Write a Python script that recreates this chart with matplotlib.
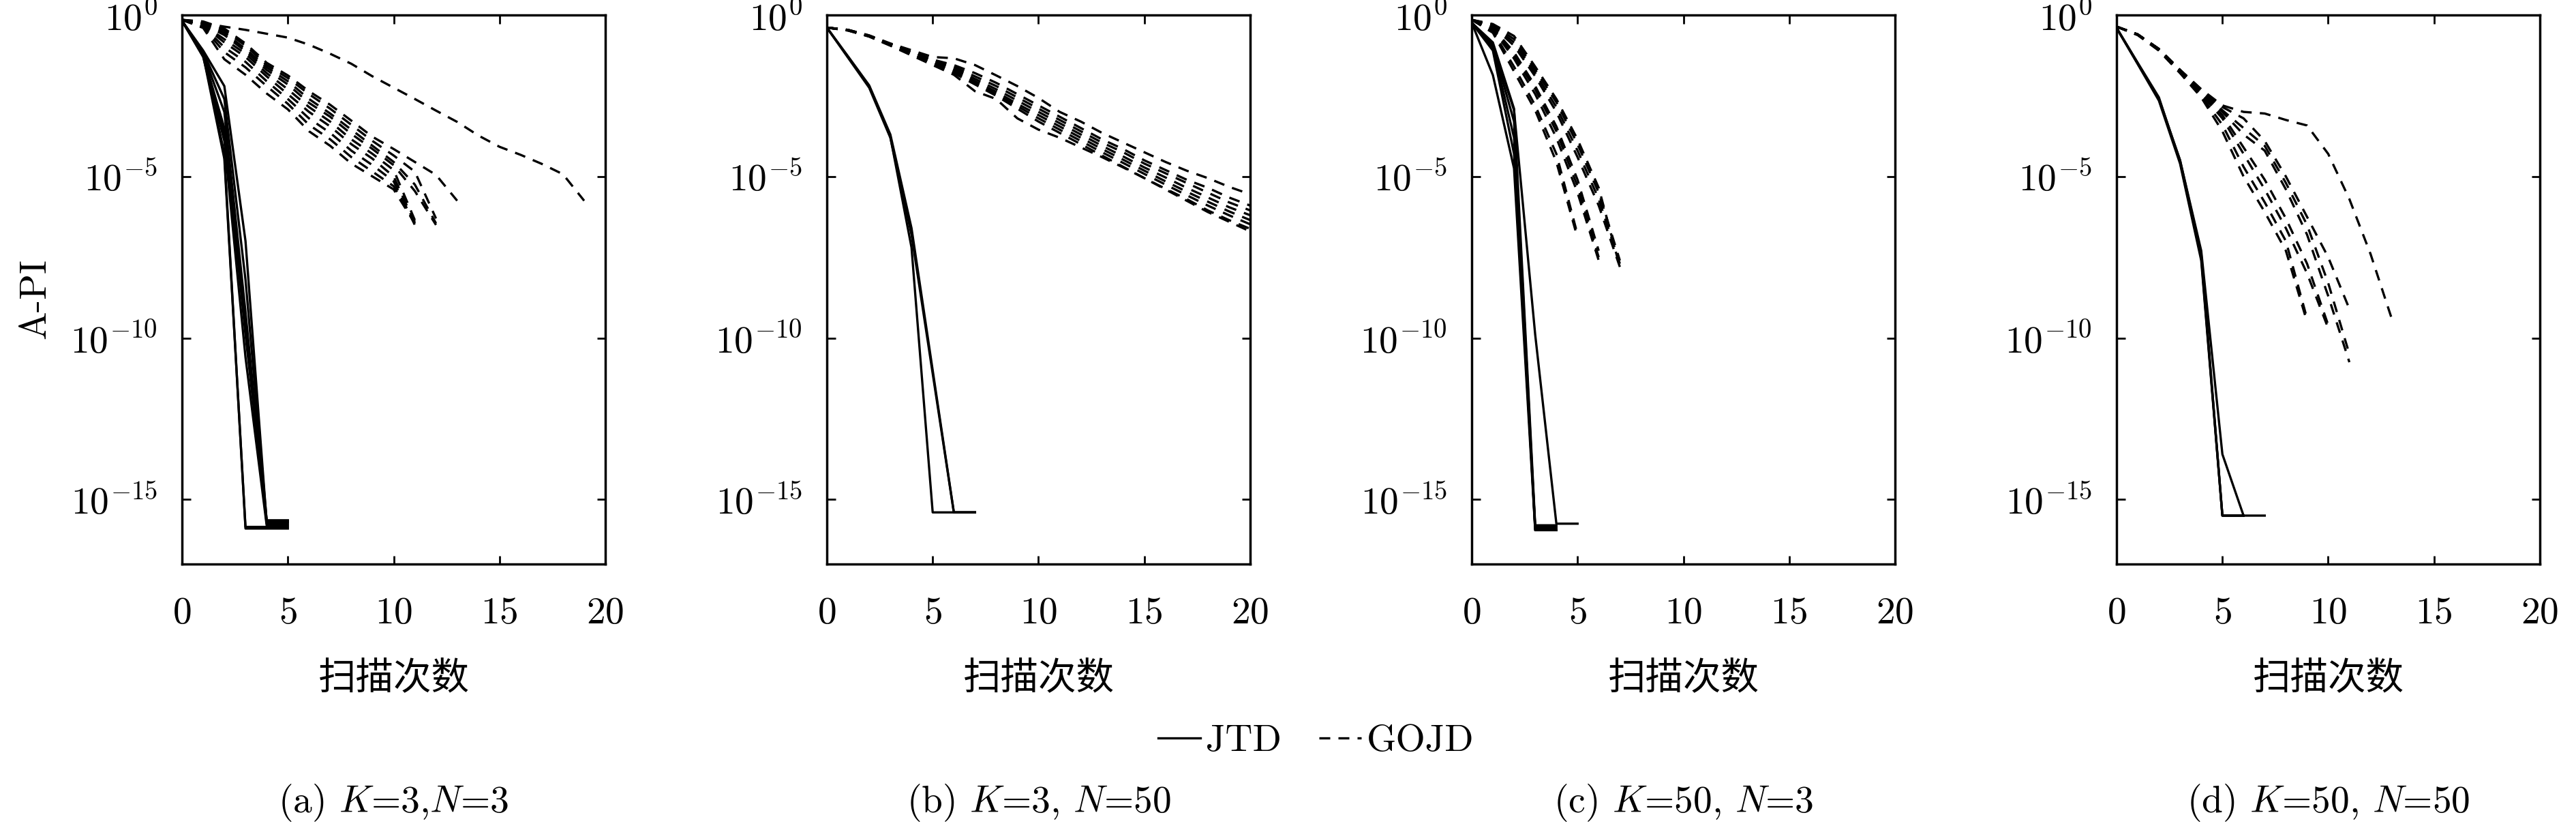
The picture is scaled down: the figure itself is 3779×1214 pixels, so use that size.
import numpy as np
import matplotlib
matplotlib.use('Agg')
import matplotlib.pyplot as plt
from matplotlib.lines import Line2D
from matplotlib.ticker import NullLocator

plt.rcParams['font.family'] = ['cmr10', 'Noto Sans CJK SC', 'DejaVu Serif']
plt.rcParams['mathtext.fontset'] = 'cm'
plt.rcParams['axes.formatter.use_mathtext'] = True
plt.rcParams['axes.unicode_minus'] = False

xticks = [0, 5, 10, 15, 20]
yticks = [1e0, 1e-5, 1e-10, 1e-15]
ytick_labels = [r'$10^{0}$', r'$10^{-5}$', r'$10^{-10}$', r'$10^{-15}$']
captions = [r'(a) $K$=3,$N$=3', r'(b) $K$=3, $N$=50',
            r'(c) $K$=50, $N$=3', r'(d) $K$=50, $N$=50']
xlabel = '扫描次数'
ylabel = 'A-PI'
legend_labels = ['JTD', 'GOJD']

# log10(A-PI) per sweep (sweep 0,1,2,...), one list per run

# (a) K=3, N=3
jtd_a = [
    [-0.18, -1.20, -4.30, -15.90, -15.90, -15.90],
    [-0.18, -1.25, -4.45, -15.85, -15.85, -15.85],
    [-0.18, -1.10, -2.20, -7.00, -15.70, -15.70],
    [-0.18, -1.15, -2.60, -8.20, -15.65, -15.65],
    [-0.18, -1.20, -3.00, -9.20, -15.75, -15.75],
    [-0.18, -1.25, -3.50, -9.90, -15.70, -15.70],
    [-0.18, -1.30, -3.90, -10.60, -15.80, -15.80],
    [-0.18, -1.22, -3.70, -9.60, -15.65, -15.65],
]
gojd_a = [
    [-0.15, -0.20, -0.42, -0.88, -1.48, -1.87, -2.36, -2.78, -3.27, -3.77, -4.15, -4.55, -4.95, -5.75],
    [-0.15, -0.22, -0.48, -0.95, -1.55, -1.95, -2.45, -2.90, -3.40, -3.90, -4.35, -4.85, -6.30],
    [-0.15, -0.25, -0.55, -1.05, -1.62, -2.05, -2.60, -3.05, -3.55, -4.05, -4.55, -5.25, -6.45],
    [-0.15, -0.28, -0.62, -1.12, -1.70, -2.15, -2.72, -3.15, -3.68, -4.15, -4.65, -5.45, -6.50],
    [-0.15, -0.30, -0.75, -1.20, -1.80, -2.30, -2.85, -3.30, -3.85, -4.30, -4.80, -6.35],
    [-0.15, -0.32, -0.85, -1.30, -1.90, -2.45, -3.00, -3.45, -4.00, -4.45, -5.00, -6.45],
    [-0.15, -0.35, -1.00, -1.45, -2.05, -2.60, -3.20, -3.65, -4.20, -4.65, -5.15, -6.50],
    [-0.15, -0.38, -1.15, -1.62, -2.20, -2.75, -3.40, -3.85, -4.40, -4.85, -5.30, -6.40],
    [-0.15, -0.40, -1.37, -1.85, -2.43, -2.92, -3.60, -4.05, -4.60, -5.00, -5.40, -6.45],
    [-0.15, -0.25, -0.36, -0.46, -0.58, -0.70, -0.92, -1.20, -1.51, -1.90, -2.25, -2.60,
     -2.96, -3.31, -3.73, -4.08, -4.33, -4.61, -4.93, -5.75],
]

# (b) K=3, N=50
jtd_b = [
    [-0.39, -1.30, -2.20, -3.77, -7.20, -15.40, -15.40, -15.40],
    [-0.39, -1.28, -2.18, -3.70, -6.60, -11.00, -15.40, -15.40],
    [-0.39, -1.32, -2.25, -3.80, -6.80, -11.10, -15.40, -15.40],
]
gojd_b = [
    [-0.39, -0.46, -0.63, -0.88, -1.09, -1.30, -1.34, -1.55, -1.87, -2.20, -2.57, -3.00,
     -3.30, -3.65, -3.95, -4.25, -4.55, -4.82, -5.05, -5.32, -5.55],
    [-0.39, -0.46, -0.64, -0.90, -1.12, -1.38, -1.55, -1.80, -2.10, -2.45, -2.80, -3.15,
     -3.50, -3.85, -4.15, -4.50, -4.80, -5.10, -5.35, -5.65, -5.90],
    [-0.39, -0.46, -0.64, -0.90, -1.13, -1.40, -1.60, -1.90, -2.20, -2.55, -2.90, -3.25,
     -3.60, -3.95, -4.25, -4.60, -4.90, -5.20, -5.50, -5.80, -6.05],
    [-0.39, -0.47, -0.65, -0.91, -1.15, -1.42, -1.65, -1.98, -2.30, -2.65, -3.00, -3.35,
     -3.70, -4.05, -4.38, -4.72, -5.03, -5.35, -5.65, -5.95, -6.20],
    [-0.39, -0.47, -0.65, -0.92, -1.17, -1.45, -1.70, -2.05, -2.38, -2.75, -3.10, -3.45,
     -3.80, -4.15, -4.48, -4.82, -5.15, -5.47, -5.78, -6.08, -6.35],
    [-0.39, -0.47, -0.66, -0.93, -1.18, -1.48, -1.75, -2.10, -2.45, -2.82, -3.20, -3.55,
     -3.90, -4.25, -4.58, -4.92, -5.25, -5.58, -5.90, -6.20, -6.48],
    [-0.39, -0.48, -0.66, -0.94, -1.20, -1.50, -1.80, -2.15, -2.50, -2.90, -3.30, -3.65,
     -4.00, -4.35, -4.70, -5.05, -5.38, -5.70, -6.05, -6.35, -6.62],
    [-0.39, -0.48, -0.67, -0.95, -1.25, -1.55, -1.85, -2.36, -2.60, -3.20, -3.55, -3.80,
     -4.10, -4.40, -4.72, -5.05, -5.40, -5.75, -6.10, -6.40, -6.70],
]

# (c) K=50, N=3
jtd_c = [
    [-0.24, -0.85, -2.90, -15.80, -15.80],
    [-0.24, -0.95, -3.30, -15.90, -15.90],
    [-0.24, -1.00, -3.80, -15.95, -15.95],
    [-0.24, -1.10, -4.30, -15.85, -15.85],
    [-0.24, -1.86, -4.75, -15.95, -15.95],
    [-0.24, -0.90, -2.95, -9.90, -15.75, -15.75],
]
gojd_c = [
    [-0.15, -0.55, -1.75, -2.95, -4.55, -6.90],
    [-0.15, -0.50, -1.60, -2.80, -4.30, -6.80],
    [-0.15, -0.45, -1.35, -2.45, -3.80, -5.50, -7.60],
    [-0.15, -0.42, -1.25, -2.30, -3.60, -5.30, -7.50],
    [-0.15, -0.40, -1.15, -2.20, -3.45, -5.10, -7.30],
    [-0.15, -0.35, -0.95, -1.90, -3.00, -4.40, -5.90, -7.80],
    [-0.15, -0.32, -0.85, -1.80, -2.85, -4.20, -5.70, -7.70],
    [-0.15, -0.30, -0.75, -1.70, -2.70, -4.00, -5.50, -7.60],
    [-0.15, -0.28, -0.65, -1.60, -2.60, -3.85, -5.35, -7.80],
]

# (d) K=50, N=50
jtd_d = [
    [-0.40, -1.50, -2.60, -4.50, -7.40, -15.50, -15.50],
    [-0.40, -1.52, -2.65, -4.60, -7.60, -15.50, -15.50],
    [-0.40, -1.48, -2.55, -4.55, -7.50, -15.50, -15.50],
    [-0.40, -1.50, -2.60, -4.50, -7.30, -13.60, -15.50, -15.50],
]
gojd_d = [
    [-0.36, -0.62, -1.10, -1.80, -2.55, -3.60, -5.00, -6.10, -7.30, -9.50],
    [-0.36, -0.62, -1.10, -1.78, -2.50, -3.40, -4.70, -5.80, -7.00, -9.40],
    [-0.36, -0.61, -1.08, -1.75, -2.45, -3.20, -4.30, -5.40, -6.60, -8.00, -9.70],
    [-0.36, -0.61, -1.07, -1.73, -2.40, -3.10, -4.10, -5.10, -6.30, -7.70, -9.60],
    [-0.36, -0.60, -1.06, -1.72, -2.35, -3.00, -3.70, -4.20, -5.40, -6.80, -8.70, -10.75],
    [-0.36, -0.60, -1.05, -1.70, -2.32, -2.95, -3.50, -4.05, -5.20, -6.50, -8.30, -10.50],
    [-0.36, -0.60, -1.05, -1.70, -2.30, -2.85, -3.20, -3.90, -5.00, -6.25, -7.50, -9.10],
    [-0.36, -0.60, -1.05, -1.70, -2.30, -2.80, -3.00, -3.05, -3.25, -3.42, -4.30, -5.70,
     -7.40, -9.40],
]

panels = [(jtd_a, gojd_a), (jtd_b, gojd_b), (jtd_c, gojd_c), (jtd_d, gojd_d)]

W, H = 3780, 1214
fig = plt.figure(figsize=(W / 100, H / 100), dpi=100)

lw = 2.4
dash = (0, (4.8, 3.6))
fs = 40
lefts = [267, 1213, 2159, 3105]
ax_w, ax_top, ax_bot = 621, 22, 827

for i, (jtd, gojd) in enumerate(panels):
    ax = fig.add_axes([lefts[i] / W, 1 - ax_bot / H, ax_w / W, (ax_bot - ax_top) / H])
    for run in gojd:
        ax.semilogy(np.arange(len(run)), 10.0 ** np.array(run), color='k', lw=lw, ls=dash)
    for run in jtd:
        ax.semilogy(np.arange(len(run)), 10.0 ** np.array(run), color='k', lw=lw, ls='-')
    ax.set_xlim(0, 20)
    ax.set_ylim(1e-17, 1e0)
    ax.set_xticks(xticks)
    ax.set_yticks(yticks)
    ax.set_yticklabels(ytick_labels)
    ax.yaxis.set_minor_locator(NullLocator())
    ax.tick_params(direction='in', length=9, width=2, top=True, right=True,
                   labelsize=fs)
    ax.tick_params(axis='x', pad=35)
    ax.tick_params(axis='y', pad=26)
    for sp in ax.spines.values():
        sp.set_linewidth(2.5)
    ax.set_xlabel(xlabel, fontsize=fs, labelpad=32)
    cx = (lefts[i] + ax_w / 2) / W
    fig.text(cx, 1 - 1177 / H, captions[i], ha='center', va='center', fontsize=fs)

fig.text(52 / W, 1 - 438 / H, ylabel, rotation=90, ha='center', va='center', fontsize=fs)

handles = [Line2D([], [], color='k', lw=lw, ls='-'),
           Line2D([], [], color='k', lw=lw, ls=dash)]
fig.legend(handles, legend_labels, loc='center', bbox_to_anchor=(1931 / W, 1 - 1087 / H),
           ncol=2, frameon=False, fontsize=fs, handlelength=1.1, handletextpad=0.15,
           columnspacing=1.0)

fig.savefig('out.png', dpi=100, facecolor='white')
